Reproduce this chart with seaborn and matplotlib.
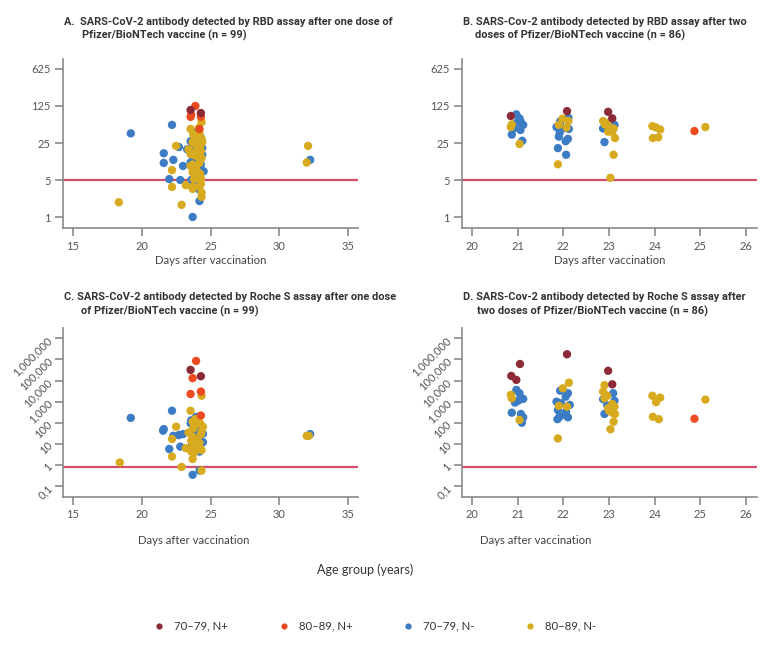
import pandas as pd
import matplotlib
matplotlib.use("Agg")
import matplotlib.pyplot as plt
from matplotlib.ticker import NullLocator
import seaborn as sns

# group codes: M = 70-79 N+, R = 80-89 N+, B = 70-79 N-, G = 80-89 N-
group_names = {"M": "70–79, N+", "R": "80–89, N+", "B": "70–79, N-", "G": "80–89, N-"}
hue_order = ["70–79, N+", "80–89, N+", "70–79, N-", "80–89, N-"]
palette = ["#8c2b37", "#ec4a1f", "#3b7cc4", "#d8aa1f"]
draw_rank = {"B": 0, "G": 1, "R": 2, "M": 3}

# A. RBD assay, one dose
a_days = [18.33, 19.2, 22.2, 21.6, 21.6, 22.3, 22.2, 22.0, 22.2, 22.5, 22.7, 22.8, 23.0,
          22.9, 23.2, 23.3, 23.55, 23.6, 23.55, 23.9, 24.3, 24.3, 24.35, 23.55, 24.2, 23.9,
          24.2, 24.0, 24.35, 23.7, 23.55, 23.8, 23.9, 24.4, 23.4, 24.3, 23.55, 23.8, 24.4,
          23.7, 24.35, 24.0, 23.55, 24.3, 23.7, 23.55, 24.1, 23.8, 24.5, 23.7, 24.1, 23.6,
          24.3, 23.7, 23.7, 24.2, 23.7, 24.1, 24.35, 24.35, 24.2, 23.7, 32.1, 32.0, 32.25,
          24.0, 24.2, 23.85, 24.1, 23.95, 24.25, 23.65, 24.05, 23.85, 24.2, 23.95, 24.25,
          23.9, 24.05, 23.8, 24.3, 24.15, 23.75, 24.25, 24.4]
a_vals = [1.9, 38, 55, 16, 10.5, 12, 7.7, 5.2, 3.7, 22, 21, 5.0, 9.2,
          1.7, 4.0, 19, 105, 85, 78, 125, 92, 78, 62, 46, 46, 40,
          38, 32, 30, 26, 27, 25, 22, 20, 19, 17.6, 15.5, 14.7, 15,
          12, 13, 11.5, 10.7, 9.8, 9.8, 9.2, 8.6, 8.0, 7.3, 7.0, 7.0, 5.0,
          4.2, 4.5, 3.7, 3.7, 3.4, 3.4, 2.9, 2.4, 2.0, 1.0, 22, 10.7, 12,
          35, 28, 30, 24, 18, 21, 20, 14, 11, 10.5, 9, 6.5,
          6, 5.5, 5.2, 5.3, 48, 36, 33, 26]
a_grp = list("GBBBBBGBGGBBB" "GGBMRRRMRGGRB" "GGGGBGBBGGGGB" "BGBBBGGBGBGGB"
             "GBGGGBGGBBGGB" "BGGBGGBGBGGG" "BGGGGGBG")

# B. RBD assay, two doses
b_days = [20.85, 20.97, 21.04, 21.06, 21.12, 20.87, 20.85, 20.91, 21.06, 20.87, 21.1, 21.04, 20.97,
          22.08, 22.11, 21.98, 22.11, 21.93, 21.9, 21.85, 22.07, 22.12, 21.92, 21.9, 22.1, 22.05,
          21.88, 22.06, 21.88, 22.0,
          22.98, 23.07, 22.87, 22.91, 22.87, 23.01, 23.1, 23.12, 22.98, 23.07, 22.9, 23.13, 23.1,
          23.03, 22.94,
          23.95, 24.03, 24.12, 23.96, 24.08, 24.87, 25.11]
b_vals = [81, 87, 73, 65, 55, 56, 50, 47, 44, 36, 27.5, 24, 60,
          100, 75, 72, 65, 64, 55, 50, 49, 46, 39, 33, 30, 27,
          20, 15, 9.9, 48,
          97, 73, 65, 56, 47, 50, 47, 55, 41, 40, 26, 31, 15,
          5.5, 60,
          52, 49, 45, 31, 32, 42, 50]
b_grp = list("MBBBBGGBBBBGB" "MBGGBGBGBBBBB" "BBGB" "MMGGBGGBGGBGG" "GG" "GGGGG" "RG")

# C. Roche S assay, one dose
c_days = [18.4, 19.2, 21.6, 21.55, 22.2, 22.5, 22.0, 22.2, 22.2, 22.3, 22.7, 23.0, 22.8,
          22.9, 23.2, 23.4, 23.55, 23.95, 23.7, 24.3, 24.3, 23.55, 24.35, 23.55, 24.3, 23.7,
          24.2, 23.8, 24.45, 24.35, 23.7, 23.95, 23.7, 24.2, 23.7, 24.35, 23.6, 23.8, 23.7,
          24.35, 24.2, 23.7, 24.45, 24.45, 24.2, 32.0, 32.15, 32.25,
          23.6, 23.95, 24.0, 23.55, 24.1, 23.85, 24.05, 23.8, 24.1, 23.65, 24.25,
          23.9, 24.1, 24.25, 23.75, 24.3, 23.6, 24.0, 24.3]
c_vals = [1.3, 170, 50, 42, 370, 65, 5.7, 17, 2.5, 24, 26, 29, 7.4,
          0.8, 6.3, 34, 32000, 85000, 13000, 16000, 3000, 2300, 1900, 370, 220, 112,
          98, 65, 65, 38, 22, 15, 11, 11, 6.3, 5.1, 4.3, 3.8, 1.9,
          0.54, 0.54, 0.34, 12, 30, 4.3, 24, 24, 29,
          130, 190, 115, 95, 70, 42, 25, 17, 8, 9, 45,
          150, 130, 90, 55, 28, 14, 7, 5.5]
c_grp = list("GBBBBGBGGBBBB" "GGGMRRMRRGGRG" "GGGGGGGGGGGGG" "GBBBBBGGB"
             "BBBBBBBBBBB" "GGGGGGGG")

# D. Roche S assay, two doses
d_days = [21.05, 20.86, 20.97, 20.97, 21.04, 20.85, 20.87, 21.12, 21.01, 20.94, 20.87, 21.07,
          21.12, 21.04, 21.09,
          22.08, 22.12, 21.99, 21.93, 22.1, 22.05, 21.85, 21.95, 22.14, 21.88, 22.06, 21.92,
          22.1, 21.87, 22.03, 21.9, 22.08, 21.88,
          22.98, 23.07, 22.9, 22.87, 23.09, 22.96, 22.9, 22.87, 23.12, 23.07, 22.96, 22.98,
          23.12, 23.0, 23.07, 22.9, 23.13, 23.1, 23.03,
          23.95, 24.12, 24.03, 23.96, 24.09, 24.87, 25.11]
d_vals = [61000, 16500, 10700, 3600, 2500, 2100, 1450, 1350, 1100, 900, 300, 260,
          180, 135, 100,
          176000, 7900, 4300, 3300, 2500, 1700, 1000, 840, 700, 400, 340, 195,
          180, 147, 235, 630, 580, 18,
          29000, 6600, 6000, 3000, 2500, 1900, 1450, 1300, 1100, 780, 670, 490,
          580, 370, 300, 260, 260, 112, 49,
          1900, 1550, 940, 190, 147, 155, 1250]
d_grp = list("MMMBBGGBBBBBBGB" "MGGBBBBBBBBBBBBGGG" "MMGGBGGBBGBGGGGBGGG" "GGGGG" "RG")


def make_df(days, vals, grp):
    df = pd.DataFrame({"day": days, "value": vals, "code": grp})
    df["group"] = df["code"].map(group_names)
    df["rank"] = df["code"].map(draw_rank)
    return df.sort_values("rank", kind="stable")


sns.set_theme(style="white")
plt.rcParams["font.family"] = ["Lato", "DejaVu Sans"]

W, H = 783, 645
fig = plt.figure(figsize=(W / 100, H / 100), dpi=100)


def box(x0, y0, x1, y1):
    return [x0 / W, 1 - y1 / H, (x1 - x0) / W, (y1 - y0) / H]


grey = "#8a8a8a"
line_red = "#d24d67"
title_font = dict(family=["Roboto", "DejaVu Sans"],
                  fontweight="bold", fontsize=7.9, color="#333333")

panels = [
    (box(63, 59, 358, 228), make_df(a_days, a_vals, a_grp), "rbd", (14.27, 35.73), [15, 20, 25, 30, 35]),
    (box(462, 59, 757, 228), make_df(b_days, b_vals, b_grp), "rbd", (19.78, 26.24), [20, 21, 22, 23, 24, 25, 26]),
    (box(63, 328, 358, 497), make_df(c_days, c_vals, c_grp), "roche", (14.27, 35.73), [15, 20, 25, 30, 35]),
    (box(462, 328, 757, 497), make_df(d_days, d_vals, d_grp), "roche", (19.78, 26.24), [20, 21, 22, 23, 24, 25, 26]),
]

axes = []
for rect, df, assay, xlim, xticks in panels:
    ax = fig.add_axes(rect)
    sns.scatterplot(data=df, x="day", y="value", hue="group", hue_order=hue_order,
                    palette=palette, s=36, linewidth=0, alpha=1, ax=ax, legend=True)
    if assay == "rbd":
        ax.set_yscale("log", base=5)
        ax.set_ylim(5 ** -0.297, 5 ** 4.27)
        ax.set_yticks([1, 5, 25, 125, 625])
        ax.set_yticklabels(["1", "5", "25", "125", "625"])
        ax.axhline(5, color=line_red, lw=1.6, zorder=0.5)
    else:
        ax.set_yscale("log", base=10)
        ax.set_ylim(10 ** -1.52, 10 ** 6.49)
        yt = [0.1, 1, 10, 100, 1000, 10000, 100000, 1000000]
        ax.set_yticks(yt)
        ax.set_yticklabels(["0,1", "1", "10", "100", "1,000", "10,000", "100,000", "1,000,000"],
                           rotation=45, ha="right", va="center", rotation_mode="anchor")
        ax.axhline(0.8, color=line_red, lw=1.6, zorder=0.5)
    ax.yaxis.set_minor_locator(NullLocator())
    ax.set_xlim(*xlim)
    ax.set_xticks(xticks)
    ax.set_xlabel("")
    ax.set_ylabel("")
    sns.despine(ax=ax)
    for side in ["left", "bottom"]:
        ax.spines[side].set_color(grey)
        ax.spines[side].set_linewidth(1.2)
    ax.tick_params(axis="both", which="major", direction="out", length=6, width=1.2,
                   color=grey, labelcolor="#555555", labelsize=8, pad=3,
                   left=True, bottom=True)
    axes.append(ax)

handles, labels = axes[0].get_legend_handles_labels()
for ax in axes:
    ax.get_legend().remove()

# titles
fig.text(64 / W, 1 - 22 / H, "A.  SARS-CoV-2 antibody detected by RBD assay after one dose of",
         va="center", ha="left", **title_font)
fig.text(82 / W, 1 - 35 / H, "Pfizer/BioNTech vaccine (n = 99)", va="center", ha="left", **title_font)
fig.text(463 / W, 1 - 22 / H, "B. SARS-Cov-2 antibody detected by RBD assay after two",
         va="center", ha="left", **title_font)
fig.text(475 / W, 1 - 35 / H, "doses of Pfizer/BioNTech vaccine (n = 86)", va="center", ha="left", **title_font)
fig.text(64 / W, 1 - 297 / H, "C. SARS-CoV-2 antibody detected by Roche S assay after one dose",
         va="center", ha="left", **title_font)
fig.text(81 / W, 1 - 311 / H, "of Pfizer/BioNTech vaccine (n = 99)", va="center", ha="left", **title_font)
fig.text(463 / W, 1 - 297 / H, "D. SARS-Cov-2 antibody detected by Roche S assay after",
         va="center", ha="left", **title_font)
fig.text(477 / W, 1 - 311 / H, "two doses of Pfizer/BioNTech vaccine (n = 86)", va="center", ha="left", **title_font)

# axis labels
lab = dict(ha="center", va="center", fontsize=8.2, color="#444444")
fig.text(211 / W, 1 - 261 / H, "Days after vaccination", **lab)
fig.text(610 / W, 1 - 261 / H, "Days after vaccination", **lab)
fig.text(194 / W, 1 - 540 / H, "Days after vaccination", **lab)
fig.text(536 / W, 1 - 540 / H, "Days after vaccination", **lab)
fig.text(365 / W, 1 - 570 / H, "Age group (years)", ha="center", va="center", fontsize=9, color="#333333")

fig.legend(handles, labels, loc="center", bbox_to_anchor=(372 / W, 1 - 626 / H), ncol=4,
           frameon=False, fontsize=8.2, markerscale=0.75, handletextpad=0.3,
           columnspacing=3.9, labelcolor="#333333")

fig.savefig("out.png", dpi=100)
